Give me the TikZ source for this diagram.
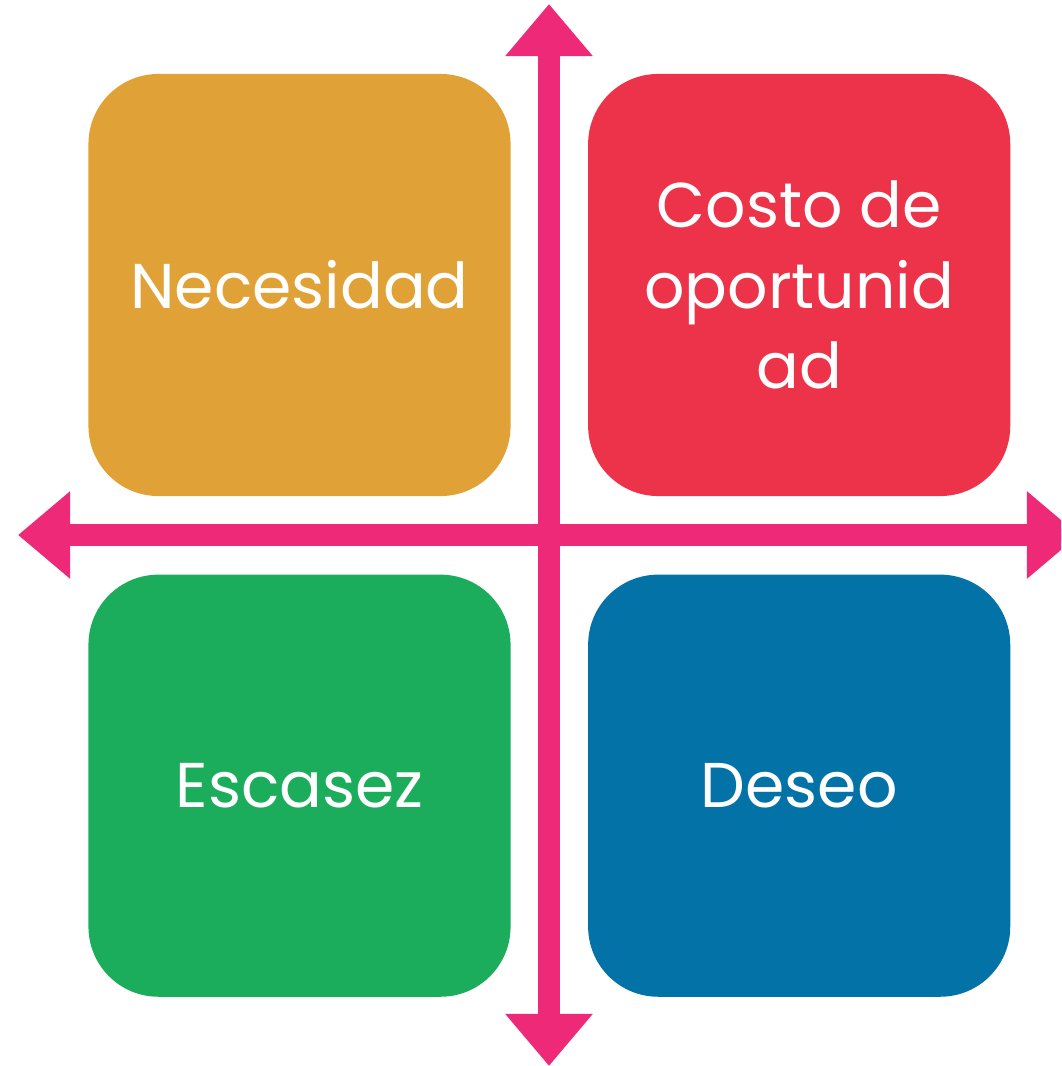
\documentclass[tikz,border=0pt]{standalone}
\usepackage{fontspec}
\setmainfont{Poppins}
\usepackage{xcolor}
\usepackage{tikz}
\usetikzlibrary{arrows.meta,positioning}

\definecolor{cnec}{RGB}{224,162,54}
\definecolor{ccos}{RGB}{237,51,73}
\definecolor{cesc}{RGB}{27,173,92}
\definecolor{cdes}{RGB}{3,114,167}
\definecolor{caxis}{RGB}{238,42,120}

\begin{document}
\begin{tikzpicture}[x=0.025cm, y=-0.025cm,
  quad/.style={rounded corners=1.75cm, minimum width=10.55cm, minimum height=10.55cm,
    inner sep=0pt, align=center, text=white,
    font=\fontsize{45}{57}\selectfont},
  axis/.style={draw=caxis, line width=0.55cm, {Triangle[length=1.3cm,width=2.1cm]}-{Triangle[length=1.3cm,width=2.1cm]}}
]
\useasboundingbox (0,0) rectangle (1061,1066);
\clip (0,0) rectangle (1061,1066);

\node[quad, fill=cnec] (nec) at (299.5,285) {Necesidad};
\node[quad, fill=ccos, right=1.925cm of nec] (cos) {Costo de\\oportunid\\ad};
\node[quad, fill=cesc, below=1.95cm of nec] (esc) {Escasez};
\node[quad, fill=cdes, right=1.925cm of esc] (des) {Deseo};

\coordinate (top) at (549,4);
\coordinate (bot) at (549,1066);
\coordinate (lft) at (18,535);
\coordinate (rgt) at (1079,535);

\draw[axis] (bot) -- (top);
\draw[axis] (lft) -- (rgt);
\end{tikzpicture}
\end{document}
